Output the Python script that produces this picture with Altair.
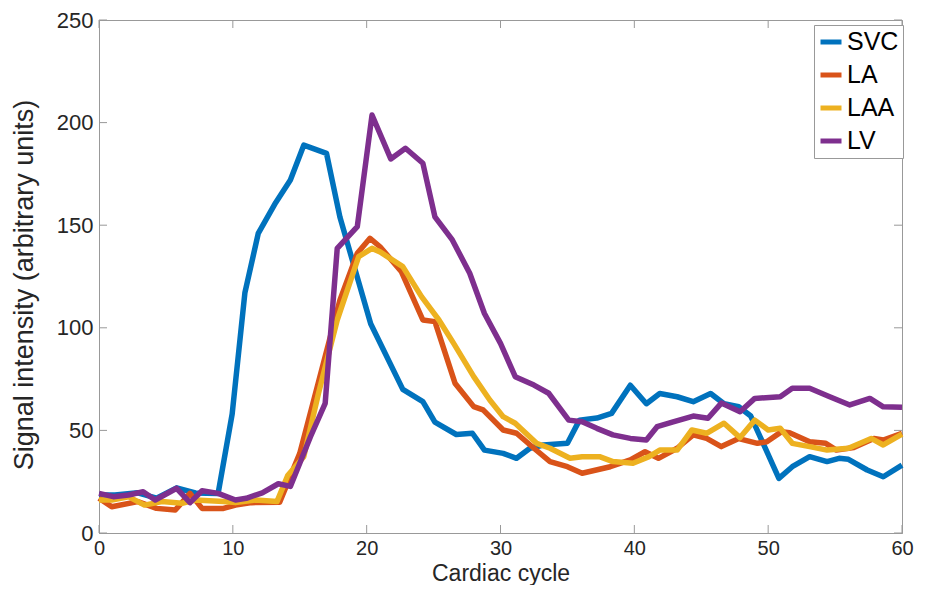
import altair as alt
import pandas as pd

series_names = ["SVC", "LA", "LAA", "LV"]
series_colors = ["#0072BD", "#D95319", "#EDB120", "#7E2F8E"]

svc_x = [0.0, 1.2, 2.9, 4.3, 5.8, 7.2, 8.9, 9.95, 10.9, 11.9, 13.2, 14.3, 15.3, 17.0, 18.0, 20.3, 22.7,
         24.2, 25.1, 26.7, 27.9, 28.8, 30.2, 31.2, 32.2, 33.2, 35.0, 35.9, 37.2, 38.3, 39.7, 40.9, 41.9,
         43.2, 44.4, 45.7, 46.7, 47.8, 48.7, 49.6, 50.8, 51.8, 53.1, 54.4, 55.3, 56.0, 57.4, 58.6, 60.0]
svc_y = [18.5, 18.5, 19.6, 17.0, 22.0, 19.5, 19.3, 58.0, 117.0, 146.0, 161.0, 172.0, 189.0, 185.0, 154.0,
         102.0, 70.0, 64.0, 54.0, 48.0, 48.6, 40.4, 38.8, 36.4, 41.3, 42.9, 43.7, 55.0, 56.0, 58.3, 72.0,
         63.0, 68.0, 66.4, 64.0, 68.0, 63.0, 61.5, 57.0, 44.0, 26.6, 32.3, 37.2, 34.8, 36.4, 35.9, 30.7,
         27.4, 33.1]

la_x = [0.0, 0.95, 2.9, 4.3, 5.7, 6.8, 7.7, 9.3, 10.2, 11.4, 13.5, 15.0, 16.5, 18.0, 19.3, 20.25, 21.0,
        22.6, 24.2, 25.1, 26.6, 28.0, 28.7, 30.2, 31.2, 32.5, 33.7, 35.0, 36.1, 38.2, 39.7, 40.8, 41.8,
        43.2, 44.4, 45.4, 46.5, 47.8, 49.2, 49.9, 51.0, 51.6, 53.1, 54.3, 55.1, 56.4, 57.9, 58.6, 60.0]
la_y = [17.0, 12.8, 15.3, 12.0, 11.2, 19.3, 12.0, 12.0, 13.6, 14.8, 15.0, 38.8, 76.0, 113.5, 136.3, 143.6,
        139.5, 127.3, 103.8, 103.0, 73.0, 61.6, 60.0, 50.2, 48.6, 41.3, 34.8, 32.3, 29.1, 32.3, 35.6, 39.6,
        36.4, 41.3, 47.8, 46.1, 42.1, 46.0, 43.7, 44.5, 49.4, 48.9, 44.5, 43.7, 40.4, 41.7, 46.1, 45.3, 48.6]

laa_x = [0.0, 0.95, 2.2, 3.4, 4.7, 6.2, 7.2, 9.3, 10.2, 11.7, 13.3, 14.1, 15.3, 16.4, 17.8, 19.4, 20.4,
         21.0, 22.7, 24.1, 25.4, 26.5, 28.0, 29.2, 30.2, 31.1, 32.7, 33.7, 35.2, 36.1, 37.4, 38.4, 39.9,
         41.1, 41.9, 43.2, 44.3, 45.4, 46.7, 47.9, 49.0, 50.0, 50.9, 51.8, 53.1, 54.4, 56.0, 57.7, 58.6, 60.0]
laa_y = [16.1, 16.1, 17.7, 13.6, 15.3, 14.5, 16.1, 15.3, 14.8, 16.1, 15.3, 28.0, 37.2, 68.0, 103.8, 134.7,
         138.7, 137.0, 129.8, 115.2, 103.8, 92.4, 76.2, 64.8, 56.7, 53.5, 43.7, 41.3, 36.4, 37.2, 37.2, 34.8,
         34.0, 37.2, 40.4, 40.4, 50.2, 48.6, 53.5, 46.5, 55.0, 50.2, 51.0, 43.7, 42.1, 40.4, 41.3, 46.1, 42.9,
         48.2]

lv_x = [0.0, 1.07, 2.2, 3.3, 4.2, 5.8, 6.8, 7.7, 8.9, 10.2, 11.0, 12.2, 13.4, 14.3, 15.8, 16.9, 17.8, 19.3,
        20.4, 21.8, 22.9, 24.2, 25.1, 26.4, 27.7, 28.8, 30.0, 31.1, 32.5, 33.6, 35.1, 36.1, 37.2, 38.4, 39.7,
        40.9, 41.7, 42.9, 44.4, 45.5, 46.5, 47.9, 49.0, 50.9, 51.8, 53.1, 54.6, 56.1, 57.6, 58.6, 60.0]
lv_y = [19.3, 17.7, 18.5, 20.1, 16.1, 21.8, 14.8, 20.6, 19.3, 16.1, 16.9, 19.6, 24.0, 22.7, 46.9, 63.2,
        138.7, 149.3, 203.7, 182.3, 187.5, 180.2, 154.1, 142.8, 126.6, 107.0, 92.4, 76.2, 72.1, 68.1, 55.0,
        54.2, 51.0, 47.8, 46.1, 45.3, 51.8, 54.2, 57.0, 55.9, 63.3, 59.1, 65.6, 66.4, 70.5, 70.5, 66.4, 62.4,
        65.6, 61.5, 61.3]

x_ticks = [0, 10, 20, 30, 40, 50, 60]
y_ticks = [0, 50, 100, 150, 200, 250]

rows = []
for name, xs, ys in zip(series_names, [svc_x, la_x, laa_x, lv_x], [svc_y, la_y, laa_y, lv_y]):
    for i, (xv, yv) in enumerate(zip(xs, ys)):
        rows.append({"series": name, "x": xv, "y": yv, "i": i})
df = pd.DataFrame(rows)

FONT = "Liberation Sans, Arial, sans-serif"
GRAY = "#999999"
TXT = "#262626"
W, H = 803, 513

xscale = alt.Scale(domain=[0, 60], nice=False, zero=False)
yscale = alt.Scale(domain=[0, 250], nice=False, zero=False)

xaxis = alt.Axis(
    values=x_ticks, title="Cardiac cycle", ticks=False, grid=False,
    domainColor=GRAY, labelColor=TXT, labelFont=FONT, labelFontSize=20,
    labelPadding=5, labelFlush=False,
    titleFont=FONT, titleFontSize=23, titleFontWeight="normal", titleColor=TXT,
    titleY=47, titleBaseline="alphabetic")
yaxis = alt.Axis(
    values=y_ticks, title="Signal intensity (arbitrary units)", ticks=False, grid=False,
    domainColor=GRAY, labelColor=TXT, labelFont=FONT, labelFontSize=22,
    labelPadding=6, labelFlush=False,
    titleFont=FONT, titleFontSize=27, titleFontWeight="normal", titleColor=TXT,
    titleX=-75, titleY=H / 2 + 8, titleBaseline="middle", titleAlign="center", titleAngle=270)

lines = alt.Chart(df).mark_line(strokeWidth=5.5, strokeJoin="round").encode(
    x=alt.X("x:Q", scale=xscale, axis=xaxis),
    y=alt.Y("y:Q", scale=yscale, axis=yaxis),
    color=alt.Color("series:N", sort=series_names,
                    scale=alt.Scale(domain=series_names, range=series_colors),
                    legend=alt.Legend(title=None, orient="none", legendX=715, legendY=5,
                                      strokeColor=GRAY, fillColor="white", padding=4,
                                      symbolType="stroke", symbolStrokeWidth=5, symbolSize=441,
                                      labelFont=FONT, labelFontSize=25, labelColor="#000000",
                                      labelOffset=3, rowPadding=7)),
    order=alt.Order("i:Q"),
)

xt_df = pd.DataFrame({"x": x_ticks})
yt_df = pd.DataFrame({"y": y_ticks})

tick_bottom = alt.Chart(xt_df).mark_rule(color=GRAY, strokeWidth=1).encode(
    x=alt.X("x:Q", scale=xscale, axis=xaxis), y=alt.value(H), y2=alt.value(H - 8))
tick_top = alt.Chart(xt_df).mark_rule(color=GRAY, strokeWidth=1).encode(
    x=alt.X("x:Q", scale=xscale, axis=xaxis), y=alt.value(0), y2=alt.value(8))
tick_left = alt.Chart(yt_df).mark_rule(color=GRAY, strokeWidth=1).encode(
    y=alt.Y("y:Q", scale=yscale, axis=yaxis), x=alt.value(0), x2=alt.value(8))
tick_right = alt.Chart(yt_df).mark_rule(color=GRAY, strokeWidth=1).encode(
    y=alt.Y("y:Q", scale=yscale, axis=yaxis), x=alt.value(W), x2=alt.value(W - 8))

chart = alt.layer(tick_bottom, tick_top, tick_left, tick_right, lines).properties(
    width=W, height=H,
    autosize=alt.AutoSizeParams(type="none"),
    padding={"left": 91, "top": 12, "right": 13, "bottom": 52},
    background="white",
).configure_view(stroke=GRAY, strokeWidth=1)

chart.save("out.html", embed_options={"renderer": "svg", "actions": False})
